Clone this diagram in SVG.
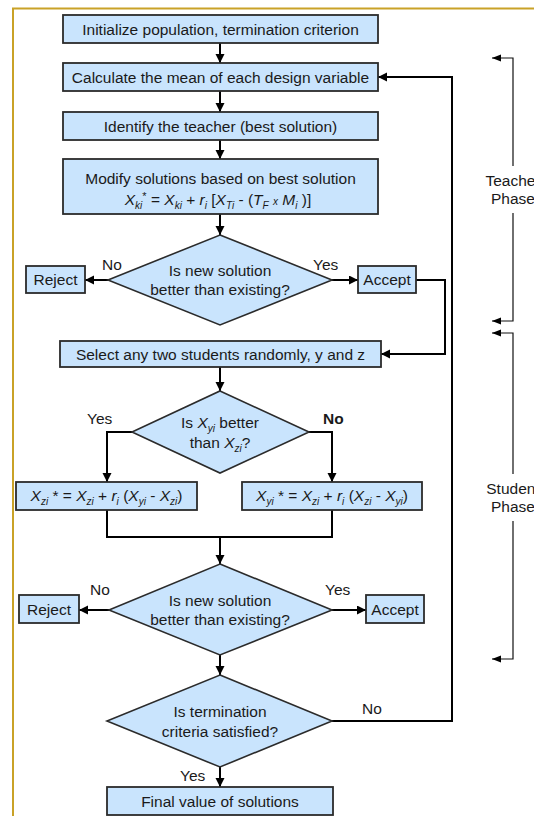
<svg xmlns="http://www.w3.org/2000/svg" width="534" height="816" viewBox="0 0 534 816">
  <style>
    .box { fill: #c9e4fd; stroke: #2b2b2b; stroke-width: 1.8; }
    .dia { fill: #c9e4fd; stroke: #2b2b2b; stroke-width: 1.6; }
    .t { font-family: "Liberation Sans", Arial, sans-serif; font-size: 15.5px; fill: #1a1a1a; }
    .c { text-anchor: middle; }
    .i { font-style: italic; }
    .sub { font-size: 10px; font-style: italic; baseline-shift: -3.5px; }
    .sup { font-size: 11px; baseline-shift: 5px; }
    .sm { font-size: 10px; font-style: italic; }
    .conn { fill: none; stroke: #000; stroke-width: 2; }
    .brk { fill: none; stroke: #111; stroke-width: 1.2; }
  </style>
  <defs>
    <marker id="arr" markerUnits="userSpaceOnUse" markerWidth="10" markerHeight="10" refX="9" refY="4.5" orient="auto">
      <path d="M0,0 L9,4.5 L0,9 Z" fill="#000"/>
    </marker>
    <marker id="arrs" markerUnits="userSpaceOnUse" markerWidth="10" markerHeight="8" refX="9" refY="3.5" orient="auto">
      <path d="M0,0 L9,3.5 L0,7 Z" fill="#000"/>
    </marker>
  </defs>

  <rect width="534" height="816" fill="#fff"/>
  <!-- outer frame -->
  <path d="M13,820 V8.5 H540" fill="none" stroke="#c9a227" stroke-width="2"/>

  <!-- connectors -->
  <g id="connectors">
    <path class="conn" d="M220,43 V63" marker-end="url(#arr)"/>
    <path class="conn" d="M220,91 V112" marker-end="url(#arr)"/>
    <path class="conn" d="M220,140 V159" marker-end="url(#arr)"/>
    <path class="conn" d="M220,214 V235" marker-end="url(#arr)"/>
    <path class="conn" d="M108,280 H85" marker-end="url(#arr)"/>
    <path class="conn" d="M332,280 H358" marker-end="url(#arr)"/>
    <path class="conn" d="M416,280 H445 V354 H381" marker-end="url(#arr)"/>
    <path class="conn" d="M220,367 V391" marker-end="url(#arr)"/>
    <path class="conn" d="M132,432 H107 V482" marker-end="url(#arr)"/>
    <path class="conn" d="M309,432 H332 V482" marker-end="url(#arr)"/>
    <path class="conn" d="M107,510 V537 H332 V510"/>
    <path class="conn" d="M220,537 V564" marker-end="url(#arr)"/>
    <path class="conn" d="M109,610 H79" marker-end="url(#arr)"/>
    <path class="conn" d="M332,610 H366" marker-end="url(#arr)"/>
    <path class="conn" d="M220,655 V675" marker-end="url(#arr)"/>
    <path class="conn" d="M332,721 H452 V77 H378" marker-end="url(#arr)"/>
    <path class="conn" d="M220,767 V787" marker-end="url(#arr)"/>
  </g>

  <!-- edge labels -->
  <g id="labels" class="t">
    <text x="102" y="270">No</text>
    <text x="313" y="270">Yes</text>
    <text x="87" y="424">Yes</text>
    <text x="323" y="424" font-weight="bold">No</text>
    <text x="90" y="595">No</text>
    <text x="325" y="595">Yes</text>
    <text x="362" y="714">No</text>
    <text x="180" y="781">Yes</text>
  </g>

  <!-- process boxes -->
  <g id="init">
    <rect class="box" x="63" y="15" width="315" height="28"/>
    <text class="t c" x="220.5" y="35">Initialize population, termination criterion</text>
  </g>
  <g id="mean">
    <rect class="box" x="63" y="63" width="315" height="28"/>
    <text class="t c" x="220.5" y="83">Calculate the mean of each design variable</text>
  </g>
  <g id="teacher">
    <rect class="box" x="63" y="112" width="315" height="28"/>
    <text class="t c" x="220.5" y="132">Identify the teacher (best solution)</text>
  </g>
  <g id="modify">
    <rect class="box" x="63" y="159" width="315" height="55"/>
    <text class="t c" x="220.5" y="184">Modify solutions based on best solution</text>
    <text class="t c" x="218" y="205"><tspan class="i">X</tspan><tspan class="sub">ki</tspan><tspan class="sup">*</tspan> =  <tspan class="i">X</tspan><tspan class="sub">ki</tspan> + <tspan class="i">r</tspan><tspan class="sub">i</tspan> [<tspan class="i">X</tspan><tspan class="sub">Ti</tspan> - (<tspan class="i">T</tspan><tspan class="sub">F</tspan> <tspan class="sm">x</tspan> <tspan class="i">M</tspan><tspan class="sub">i</tspan> )]</text>
  </g>
  <g id="decide1">
    <polygon class="dia" points="220,235 332,280 220,325 108,280"/>
    <text class="t c" x="220" y="276">Is new solution</text>
    <text class="t c" x="220" y="295">better than existing?</text>
  </g>
  <g id="reject1">
    <rect class="box" x="26" y="266" width="59" height="27"/>
    <text class="t c" x="55.5" y="285">Reject</text>
  </g>
  <g id="accept1">
    <rect class="box" x="358" y="266" width="58" height="27"/>
    <text class="t c" x="387" y="285">Accept</text>
  </g>
  <g id="select">
    <rect class="box" x="60" y="341" width="321" height="26"/>
    <text class="t c" x="220.5" y="360">Select any two students randomly, y and z</text>
  </g>
  <g id="compare">
    <polygon class="dia" points="220,391 309,432 220,473 132,432"/>
    <text class="t c" x="220" y="428">Is <tspan class="i">X</tspan><tspan class="sub">yi</tspan> better</text>
    <text class="t c" x="220" y="448">than <tspan class="i">X</tspan><tspan class="sub">zi</tspan>?</text>
  </g>
  <g id="updateZ">
    <rect class="box" x="16" y="482" width="181" height="28"/>
    <text class="t c" x="106.5" y="501"><tspan class="i">X</tspan><tspan class="sub">zi</tspan> * =  <tspan class="i">X</tspan><tspan class="sub">zi</tspan> + <tspan class="i">r</tspan><tspan class="sub">i</tspan> (<tspan class="i">X</tspan><tspan class="sub">yi</tspan> - <tspan class="i">X</tspan><tspan class="sub">zi</tspan>)</text>
  </g>
  <g id="updateY">
    <rect class="box" x="242" y="482" width="180" height="28"/>
    <text class="t c" x="332" y="501"><tspan class="i">X</tspan><tspan class="sub">yi</tspan> * =  <tspan class="i">X</tspan><tspan class="sub">zi</tspan> + <tspan class="i">r</tspan><tspan class="sub">i</tspan> (<tspan class="i">X</tspan><tspan class="sub">zi</tspan> - <tspan class="i">X</tspan><tspan class="sub">yi</tspan>)</text>
  </g>
  <g id="decide2">
    <polygon class="dia" points="220,564 332,610 220,655 109,610"/>
    <text class="t c" x="220" y="606">Is new solution</text>
    <text class="t c" x="220" y="625">better than existing?</text>
  </g>
  <g id="reject2">
    <rect class="box" x="19" y="595" width="60" height="28"/>
    <text class="t c" x="49" y="615">Reject</text>
  </g>
  <g id="accept2">
    <rect class="box" x="366" y="595" width="58" height="28"/>
    <text class="t c" x="395" y="615">Accept</text>
  </g>
  <g id="terminate">
    <polygon class="dia" points="220,675 332,721 220,767 107,721"/>
    <text class="t c" x="220" y="717">Is termination</text>
    <text class="t c" x="220" y="737">criteria satisfied?</text>
  </g>
  <g id="final">
    <rect class="box" x="107" y="787" width="226" height="28"/>
    <text class="t c" x="220" y="807">Final value of solutions</text>
  </g>

  <!-- phase brackets -->
  <g id="teacherPhase">
    <path class="brk" d="M513,166 V58 H492" marker-end="url(#arrs)"/>
    <path class="brk" d="M513,213 V321 H492" marker-end="url(#arrs)"/>
    <text class="t c" x="513" y="186">Teacher</text>
    <text class="t c" x="513" y="204">Phase</text>
  </g>
  <g id="studentPhase">
    <path class="brk" d="M513,474 V333 H492" marker-end="url(#arrs)"/>
    <path class="brk" d="M513,521 V659 H492" marker-end="url(#arrs)"/>
    <text class="t c" x="513" y="494">Student</text>
    <text class="t c" x="513" y="512">Phase</text>
  </g>
</svg>
